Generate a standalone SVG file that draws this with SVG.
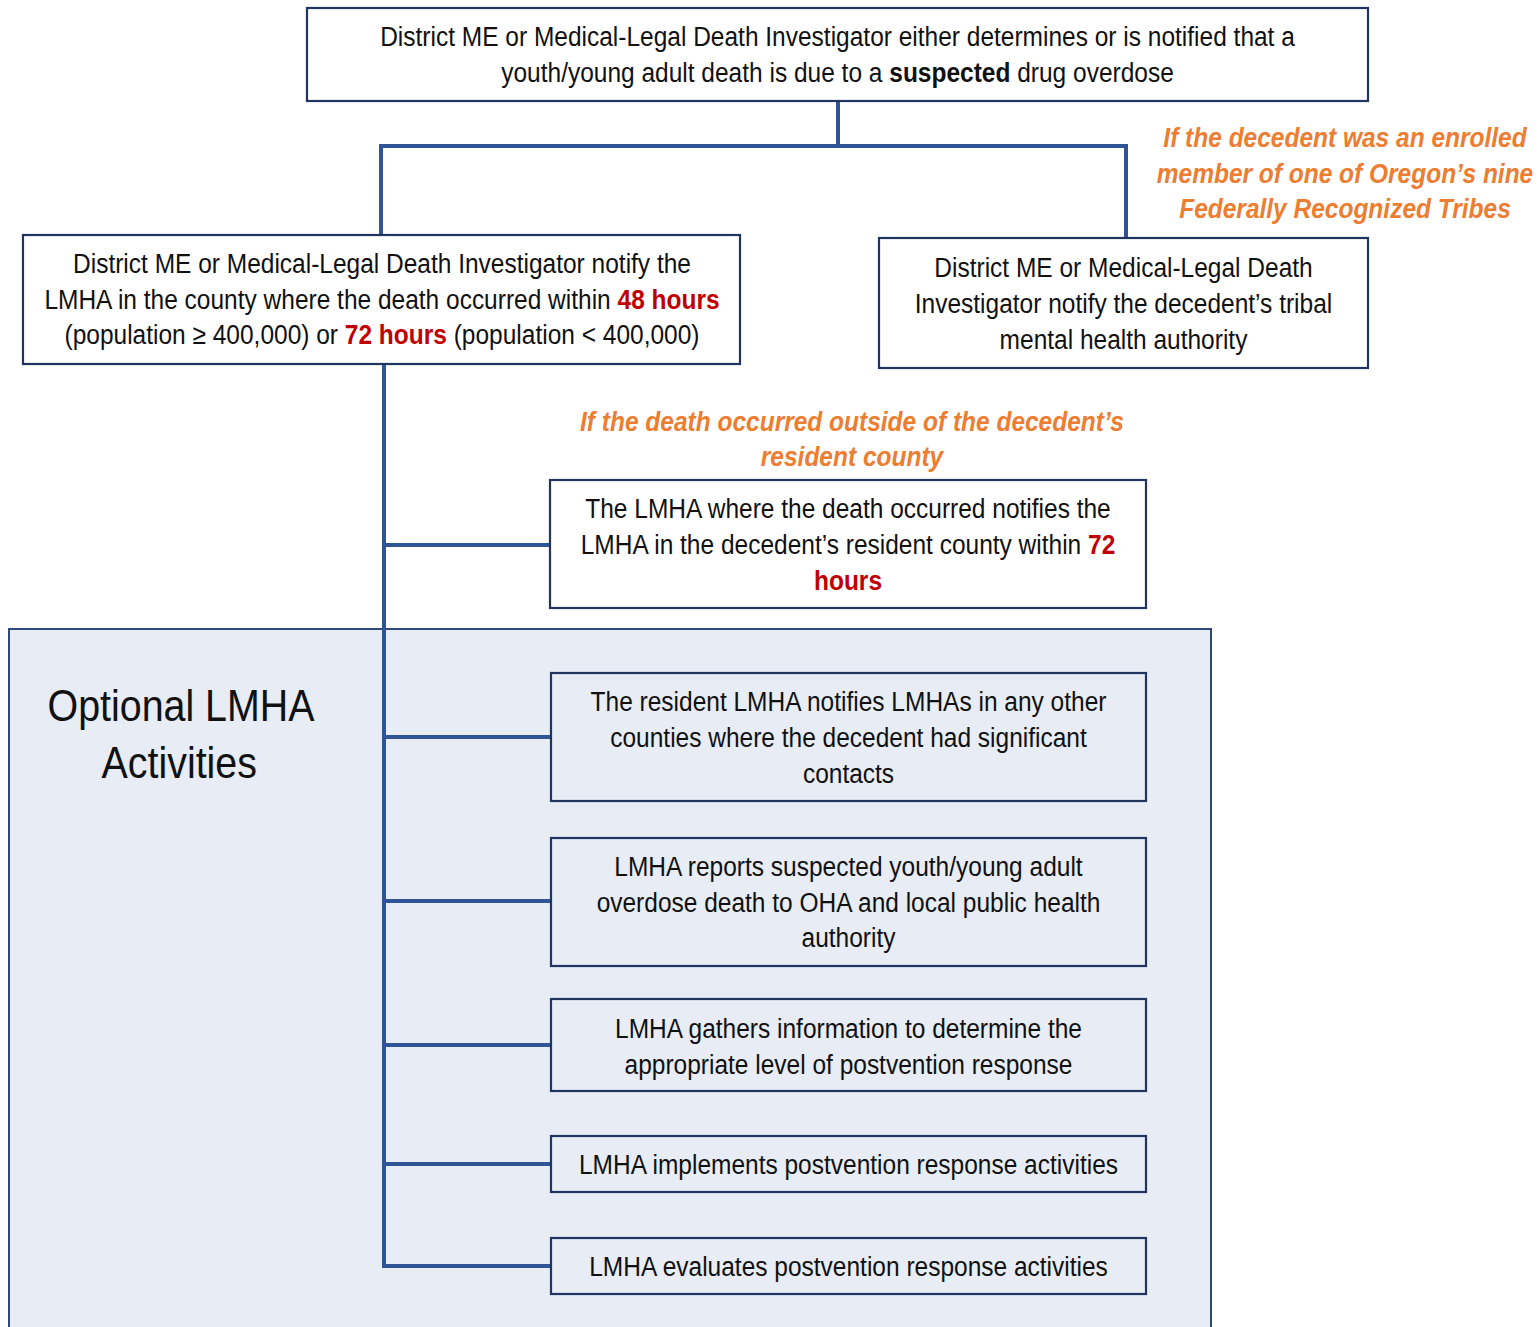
<svg xmlns="http://www.w3.org/2000/svg" width="1538" height="1327" viewBox="0 0 1538 1327">
<style>
.bg{fill:#ffffff}
.region{fill:#E7ECF5;stroke:#2E4A7D;stroke-width:2}
.box{fill:#ffffff;stroke:#1F3560;stroke-width:2.2}
.box2{fill:#E7ECF5;stroke:#1F3560;stroke-width:2.2}
.conn{fill:none;stroke:#2F5597;stroke-width:4;stroke-linejoin:miter}
.t{font-family:"Liberation Sans",Arial,sans-serif;font-size:28px;fill:#111111;text-anchor:middle}
.b{font-weight:bold}
.red{fill:#C00000;font-weight:bold}
.or{font-family:"Liberation Sans",Arial,sans-serif;font-size:28px;font-weight:bold;font-style:italic;fill:#EC7D31;text-anchor:middle}
.big{font-family:"Liberation Sans",Arial,sans-serif;font-size:45px;fill:#111111;text-anchor:middle}
</style>
<rect class="bg" x="0" y="0" width="1538" height="1327"/>
<g id="optional-region">
<rect class="region" x="9" y="629" width="1202" height="710"/>
<g transform="translate(181 0) scale(0.875 1)">
<text class="big" x="0" y="721">Optional LMHA</text>
<text class="big" x="-2" y="778">Activities</text>
</g>
</g>
<g id="connectors">
<path class="conn" d="M838 101 V146"/>
<path class="conn" d="M381 235 V146 H1126 V238"/>
<path class="conn" d="M384 364 V1266 H551"/>
<path class="conn" d="M384 545 H550"/>
<path class="conn" d="M384 737 H551"/>
<path class="conn" d="M384 901 H551"/>
<path class="conn" d="M384 1045 H551"/>
<path class="conn" d="M384 1164 H551"/>
</g>
<g id="node-top">
<rect class="box" x="307" y="8" width="1061" height="93"/>
<g transform="translate(837.5 0) scale(0.875 1)">
<text class="t" x="0" y="46">District ME or Medical-Legal Death Investigator either determines or is notified that a</text>
<text class="t" x="0" y="82">youth/young adult death is due to a <tspan class="b">suspected</tspan> drug overdose</text>
</g>
</g>
<g id="node-notify-lmha">
<rect class="box" x="23" y="235" width="717" height="129"/>
<g transform="translate(382 0) scale(0.875 1)">
<text class="t" x="0" y="273">District ME or Medical-Legal Death Investigator notify the</text>
<text class="t" x="0" y="309">LMHA in the county where the death occurred within <tspan class="red">48 hours</tspan></text>
<text class="t" x="0" y="344">(population ≥ 400,000) or <tspan class="red">72 hours</tspan> (population &lt; 400,000)</text>
</g>
</g>
<g id="label-tribes">
<g transform="translate(1345 0) scale(0.875 1)">
<text class="or" x="0" y="147">If the decedent was an enrolled</text>
<text class="or" x="0" y="183">member of one of Oregon’s nine</text>
<text class="or" x="0" y="218">Federally Recognized Tribes</text>
</g>
</g>
<g id="node-tribal">
<rect class="box" x="879" y="238" width="489" height="130"/>
<g transform="translate(1123.5 0) scale(0.875 1)">
<text class="t" x="0" y="277">District ME or Medical-Legal Death</text>
<text class="t" x="0" y="313">Investigator notify the decedent’s tribal</text>
<text class="t" x="0" y="349">mental health authority</text>
</g>
</g>
<g id="label-outside">
<g transform="translate(852 0) scale(0.875 1)">
<text class="or" x="0" y="431">If the death occurred outside of the decedent’s</text>
<text class="or" x="0" y="466">resident county</text>
</g>
</g>
<g id="node-resident-notify">
<rect class="box" x="550" y="480" width="596" height="128"/>
<g transform="translate(848 0) scale(0.875 1)">
<text class="t" x="0" y="518">The LMHA where the death occurred notifies the</text>
<text class="t" x="0" y="554">LMHA in the decedent’s resident county within <tspan class="red">72</tspan></text>
<text class="t" x="0" y="590"><tspan class="red">hours</tspan></text>
</g>
</g>
<g id="node-other-counties">
<rect class="box2" x="551" y="673" width="595" height="128"/>
<g transform="translate(848.5 0) scale(0.875 1)">
<text class="t" x="0" y="711">The resident LMHA notifies LMHAs in any other</text>
<text class="t" x="0" y="747">counties where the decedent had significant</text>
<text class="t" x="0" y="783">contacts</text>
</g>
</g>
<g id="node-report">
<rect class="box2" x="551" y="838" width="595" height="128"/>
<g transform="translate(848.5 0) scale(0.875 1)">
<text class="t" x="0" y="876">LMHA reports suspected youth/young adult</text>
<text class="t" x="0" y="912">overdose death to OHA and local public health</text>
<text class="t" x="0" y="947">authority</text>
</g>
</g>
<g id="node-gather">
<rect class="box2" x="551" y="999" width="595" height="92"/>
<g transform="translate(848.5 0) scale(0.875 1)">
<text class="t" x="0" y="1038">LMHA gathers information to determine the</text>
<text class="t" x="0" y="1074">appropriate level of postvention response</text>
</g>
</g>
<g id="node-implement">
<rect class="box2" x="551" y="1136" width="595" height="56"/>
<g transform="translate(848.5 0) scale(0.875 1)">
<text class="t" x="0" y="1174">LMHA implements postvention response activities</text>
</g>
</g>
<g id="node-evaluate">
<rect class="box2" x="551" y="1238" width="595" height="56"/>
<g transform="translate(848.5 0) scale(0.875 1)">
<text class="t" x="0" y="1276">LMHA evaluates postvention response activities</text>
</g>
</g>
</svg>
